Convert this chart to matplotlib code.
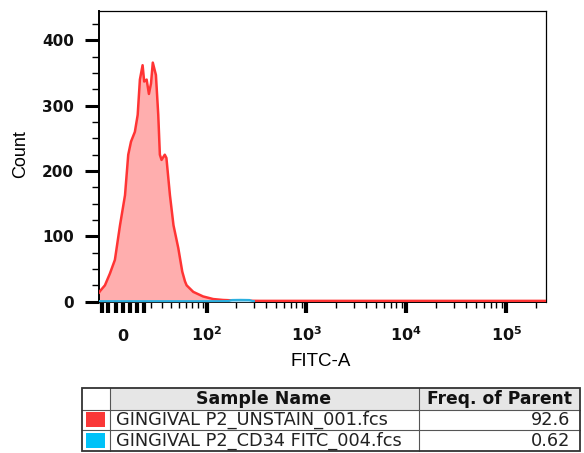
import numpy as np
import matplotlib
matplotlib.use("Agg")
import matplotlib.pyplot as plt
from matplotlib.patches import Rectangle
from matplotlib.ticker import FixedLocator

plt.rcParams['mathtext.fontset'] = 'dejavusans'

# ---------------- data ----------------
red_x = [-17, -16.4, -12.6, -9, -5.5, -2, 1.4, 3.6, 5.5, 8.2, 10.2, 11.8, 13.8,
         15, 16.9, 18.7, 20.4, 21.9, 24.6, 26.7, 28.2, 29.8, 33, 34.7, 38.5,
         42.6, 48.6, 54, 58, 60.5, 71.5, 91, 116, 146, 217, 345, 870, 8700, 250000]
red_y = [14, 16, 25, 43, 64, 117, 163, 225, 245, 260, 286, 340, 362,
         337, 340, 318, 334, 366, 347, 286, 225, 217, 225, 220, 163,
         117, 82, 46, 31, 25, 15, 8, 4, 2.6, 1.5, 1.2, 1.2, 1.2, 1.2]

blue_x = [-17, -5, 10, 40, 100, 130, 165, 180, 220, 270, 290, 300]
blue_y = [0.8, 0.8, 0.8, 0.8, 0.8, 0.8, 1.0, 2.6, 2.8, 2.6, 1.0, 0.8]

y_major = [0, 100, 200, 300, 400]
y_minor = [25, 50, 75, 125, 150, 175, 225, 250, 275, 325, 350, 375, 425]

x_major = [-15, -10, -5, 0, 5, 10, 15, 100, 1000, 10000, 100000]
x_major_labels = ['', '', '', r'$\mathbf{0}$', '', '', '',
                  r'$\mathbf{10^{2}}$', r'$\mathbf{10^{3}}$',
                  r'$\mathbf{10^{4}}$', r'$\mathbf{10^{5}}$']
x_minor = [20, 30, 40, 50, 60, 70, 80, 90,
           200, 300, 400, 500, 600, 700, 800, 900,
           2000, 3000, 4000, 5000, 6000, 7000, 8000, 9000,
           20000, 30000, 40000, 50000, 60000, 70000, 80000, 90000, 200000]

x_label = "FITC-A"
y_label = "Count"

table_header = ["", "Sample Name", "Freq. of Parent"]
sample_names = ["GINGIVAL P2_UNSTAIN_001.fcs", "GINGIVAL P2_CD34 FITC_004.fcs"]
freq_values = ["92.6", "0.62"]
sample_colors = ["#fa3838", "#00c2f8"]

# ---------------- figure ----------------
W, H = 584, 453
fig = plt.figure(figsize=(W / 100, H / 100), dpi=100)

def px_axes(x0, y0, x1, y1):
    return fig.add_axes([x0 / W, 1 - y1 / H, (x1 - x0) / W, (y1 - y0) / H])

ax = px_axes(99, 11, 546, 302)
ax.set_xscale('asinh', linear_width=29.5)
ax.set_xlim(-17.1, 250000)
ax.set_ylim(-0.5, 445)

# histograms
ax.fill_between(red_x, red_y, 0, color='#ffaeae', lw=0, zorder=2)
ax.plot(red_x, red_y, color='#ff3434', lw=1.8, zorder=3)
ax.fill_between(blue_x, blue_y, 0, color='#9ad8f0', lw=0, zorder=4)
ax.plot(blue_x, blue_y, color='#2ab0e0', lw=1.5, zorder=5)

# spines
for s in ['top', 'right']:
    ax.spines[s].set_linewidth(0.9)
ax.spines['left'].set_linewidth(1.4)
ax.spines['bottom'].set_linewidth(1.4)
for s in ax.spines.values():
    s.set_color('black')

# y ticks
ax.yaxis.set_major_locator(FixedLocator(y_major))
ax.yaxis.set_minor_locator(FixedLocator(y_minor))
ax.set_yticklabels([str(v) for v in y_major])
ax.tick_params(axis='y', which='major', length=10, width=2.2, pad=8,
               labelsize=11, direction='out')
ax.tick_params(axis='y', which='minor', length=5, width=1.0, direction='out')
for lab in ax.get_yticklabels():
    lab.set_fontweight('bold')
    lab.set_fontfamily('DejaVu Sans')
    lab.set_color('#111111')

# x ticks
ax.xaxis.set_major_locator(FixedLocator(x_major))
ax.xaxis.set_minor_locator(FixedLocator(x_minor))
ax.set_xticklabels(x_major_labels)
ax.tick_params(axis='x', which='major', length=8, width=3.0, pad=20,
               labelsize=11.5, direction='out')
ax.tick_params(axis='x', which='minor', length=4, width=1.0, direction='out')
for lab in ax.get_xticklabels():
    lab.set_verticalalignment('baseline')
    lab.set_color('#111111')

ax.set_xlabel(x_label, fontsize=13.5, family='Liberation Sans')
ax.xaxis.set_label_coords(0.497, -0.203)
ax.xaxis.label.set_verticalalignment('center')
ax.set_ylabel(y_label, fontsize=13, family='Liberation Sans')
ax.yaxis.set_label_coords(-0.175, 0.51)
ax.yaxis.label.set_verticalalignment('center')

# ---------------- table ----------------
tax = px_axes(81, 387, 581, 452)
tax.set_xlim(81, 581)
tax.set_ylim(452, 387)
tax.axis('off')

col_edges = [82, 109.5, 418.5, 580]
row_edges = [388, 410, 429.5, 451]

# header background
tax.add_patch(Rectangle((col_edges[1], row_edges[0]), col_edges[3] - col_edges[1],
                        row_edges[1] - row_edges[0], facecolor='#e6e6e6',
                        edgecolor='none', zorder=1))
# grid lines
for yv in row_edges[1:-1]:
    tax.plot([col_edges[0], col_edges[-1]], [yv, yv], color='#555555', lw=0.8, zorder=2)
for xv in col_edges[1:-1]:
    tax.plot([xv, xv], [row_edges[0], row_edges[-1]], color='#555555', lw=0.8, zorder=2)
tax.add_patch(Rectangle((col_edges[0], row_edges[0]), col_edges[-1] - col_edges[0],
                        row_edges[-1] - row_edges[0], facecolor='none',
                        edgecolor='#333333', lw=1.3, zorder=3))

# header text
tax.text((col_edges[1] + col_edges[2]) / 2, (row_edges[0] + row_edges[1]) / 2 + 0.5,
         table_header[1], ha='center', va='center', fontsize=12.5,
         fontweight='bold', family='DejaVu Sans', color='#111111')
tax.text((col_edges[2] + col_edges[3]) / 2, (row_edges[0] + row_edges[1]) / 2 + 0.5,
         table_header[2], ha='center', va='center', fontsize=12.3,
         fontweight='bold', family='DejaVu Sans', color='#111111')

for i, (name, freq, col) in enumerate(zip(sample_names, freq_values, sample_colors)):
    y0, y1 = row_edges[i + 1], row_edges[i + 2]
    yc = (y0 + y1) / 2
    tax.add_patch(Rectangle((85.5, yc - 7.5), 19, 15, facecolor=col,
                            edgecolor='none', zorder=2))
    tax.text(116, yc + 0.5, name, ha='left', va='center', fontsize=12.8,
             family='DejaVu Sans', color='#222222')
    tax.text(570, yc + 0.5, freq, ha='right', va='center', fontsize=12.8,
             family='DejaVu Sans', color='#222222')

fig.savefig("out.png", dpi=100)
